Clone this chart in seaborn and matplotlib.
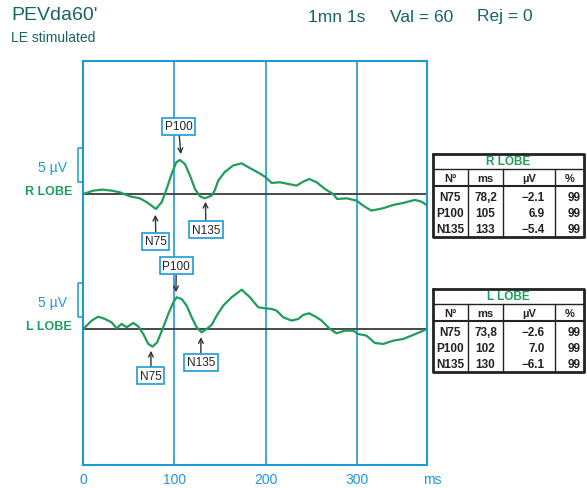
import matplotlib
matplotlib.use("Agg")
import matplotlib.pyplot as plt
import seaborn as sns
import pandas as pd

# === data ===
r_ms = [0, 11, 21, 31, 40, 51, 62, 69.5, 79.7, 86, 91.4, 96.9, 102, 106, 111.5, 117, 122.5, 128, 133,
        140.8, 144, 148, 155, 164.5, 173.7, 182.8, 193.8, 200, 206.6, 215.7, 224.8, 234, 241.2, 247.8,
        255.9, 265, 274, 278.5, 288.8, 299.8, 307, 316, 328.9, 339.9, 350.9, 363.7, 371, 376.5]
r_uv = [0, 0.49, 0.64, 0.49, 0.25, -0.34, -0.64, -1.2, -2.2, -1.2, 0.74, 2.94, 4.66, 5.0, 4.4, 2.7, 0.74,
        -0.34, -0.64, -0.25, 0.49, 1.96, 3.2, 4.2, 4.5, 3.8, 3.0, 2.45, 1.62, 1.72, 1.47, 1.23, 1.81, 2.2,
        1.72, 0.74, 0, -0.74, -0.64, -0.98, -1.72, -2.45, -2.1, -1.62, -1.32, -0.88, -1.13, -1.62]

l_ms = [0, 9.2, 16.4, 23.8, 31, 36.6, 42, 47.6, 54.8, 60.3, 65.8, 71.3, 76, 81, 87.7, 93.2, 98.7, 102.4,
        107.9, 113.4, 118.9, 124.3, 129.8, 135.3, 140.8, 146.3, 153.5, 162.7, 173.7, 182.8, 191.9, 199.2,
        206.6, 212, 219.3, 228.5, 235.8, 241.2, 247.8, 255.9, 261.4, 270.5, 277.8, 286.9, 296, 301.5,
        310.7, 319.8, 329, 340, 350.9, 361.8, 374.7]
l_uv = [0, 1.23, 1.81, 1.47, 0.98, 0.1, 0.74, 0.25, 0.88, 0.39, -0.74, -2.2, -2.6, -1.96, 0.25, 2.2, 3.9,
        4.66, 4.4, 3.43, 1.72, 0.25, -0.49, 0, 0.59, 1.96, 3.43, 4.66, 5.78, 4.66, 3.19, 3.04, 2.94, 2.7,
        1.72, 1.23, 1.47, 2.06, 2.3, 1.72, 1.23, 0, -0.64, -0.25, -0.25, -0.74, -0.98, -2.06, -2.2, -1.72,
        -1.47, -0.88, -0.15]

x_ticks = [0, 100, 200, 300]
peak_names = ["N75", "P100", "N135"]
table_header = ["N°", "ms", "µV", "%"]
r_table_ms = ["78,2", "105", "133"]
r_table_uv = ["\u22122.1", "6.9", "\u22125.4"]
r_table_pct = ["99", "99", "99"]
l_table_ms = ["73,8", "102", "130"]
l_table_uv = ["\u22122.6", "7.0", "\u22126.1"]
l_table_pct = ["99", "99", "99"]

BLUE = "#1d9ad6"
GREEN = "#1f9d5b"
TEAL = "#17665e"

sns.set_style("white")
plt.rcParams["font.family"] = ["Liberation Sans", "DejaVu Sans"]

W, H = 587, 489
fig = plt.figure(figsize=(W / 100, H / 100), dpi=100)


def fx(px):
    return px / W


def fy(py):
    return 1 - py / H


ax = fig.add_axes([fx(83.3), fy(466), fx(427) - fx(83.3), fy(62) - fy(466)])

R_OFF = 19.85  # R lobe baseline (µV units above L baseline)
df_r = pd.DataFrame({"ms": r_ms, "y": [v + R_OFF for v in r_uv]})
df_l = pd.DataFrame({"ms": l_ms, "y": l_uv})

for base in (R_OFF, 0):
    ax.axhline(base, color="#3a3a3a", lw=1.3, zorder=2)
sns.lineplot(data=df_r, x="ms", y="y", ax=ax, color=GREEN, lw=1.6, zorder=3)
sns.lineplot(data=df_l, x="ms", y="y", ax=ax, color=GREEN, lw=1.6, zorder=3)

for xv in x_ticks[1:]:
    ax.axvline(xv, color=BLUE, lw=1.2, zorder=1)

ax.set_xlim(0, 377)
ax.set_ylim(-20, 39.4)
ax.set_xticks(x_ticks)
ax.set_xticklabels([str(t) for t in x_ticks], color=BLUE, fontsize=10)
ax.tick_params(axis="x", length=0, pad=5)
ax.set_yticks([])
ax.set_xlabel("")
ax.set_ylabel("")
for s in ax.spines.values():
    s.set_color(BLUE)
    s.set_linewidth(1.5)

# scale brackets and lobe labels
for base, name in ((R_OFF, "R LOBE"), (0, "L LOBE")):
    ax.plot([0, -6, -6, 0], [base + 1.76, base + 1.76, base + 6.76, base + 6.76],
            color=BLUE, lw=1.1, clip_on=False)
    ax.text(-17.9, base + 3.9, "5 µV", color=BLUE, fontsize=10, ha="right", va="center")
    ax.text(-12.4, base + 0.4, name, color=GREEN, fontsize=9, fontweight="bold",
            ha="right", va="center")

# peak markers
box = dict(boxstyle="square,pad=0.22", fc="white", ec=BLUE, lw=1.2)
arrow = dict(arrowstyle="->", color="#333333", lw=1.0, shrinkA=0, shrinkB=0)
r_marks = [((79, 16.8), (79.7, 12.9)), ((107, 25.7), (104.4, 29.8)), ((134, 18.7), (134.5, 14.6))]
l_marks = [((74.2, -3.2), (74.2, -6.9)), ((101.6, 5.4), (102, 9.3)), ((129, -1.2), (129, -4.9))]
for marks in (r_marks, l_marks):
    for name, (tip, txt) in zip(peak_names, marks):
        ax.annotate(name, xy=tip, xytext=txt, ha="center", va="center", fontsize=8.5,
                    color="#222222", bbox=box, arrowprops=arrow, zorder=5)

fig.text(fx(423), fy(480), "ms", color=BLUE, fontsize=10, ha="left", va="center")

# header texts
fig.text(fx(11), fy(15), "PEVda60'", color=TEAL, fontsize=14, ha="left", va="center")
fig.text(fx(11), fy(38), "LE stimulated", color=TEAL, fontsize=10, ha="left", va="center")
fig.text(fx(308), fy(17), "1mn 1s", color=TEAL, fontsize=12.5, ha="left", va="center")
fig.text(fx(390), fy(17), "Val = 60", color=TEAL, fontsize=12.5, ha="left", va="center")
fig.text(fx(477), fy(17), "Rej = 0", color=TEAL, fontsize=12.5, ha="left", va="center")


# === tables ===
def draw_table(top, title, ms_vals, uv_vals, pct_vals):
    left, right, bottom = 433, 584, top + 83
    tax = fig.add_axes([fx(left), fy(bottom), fx(right) - fx(left), fy(top) - fy(bottom)])
    tax.set_xlim(left, right)
    tax.set_ylim(bottom, top)
    tax.axis("off")
    k = dict(color="#222222", lw=1.0)
    tax.plot([left, right, right, left, left], [top, top, bottom, bottom, top], color="#222222", lw=2.0,
             clip_on=False)
    tax.plot([left, right], [top + 15, top + 15], **k)
    tax.plot([left, right], [top + 32, top + 32], color="#222222", lw=1.5)
    for cx in (468, 503, 555):
        tax.plot([cx, cx], [top + 15, bottom], **k)
    tax.text((left + right) / 2, top + 7.5, title, color=GREEN, fontsize=8.5, fontweight="bold",
             ha="center", va="center")
    centers = [450.5, 485.5, 529, 570]
    for cx, h in zip(centers, table_header):
        tax.text(cx, top + 24, h, fontsize=8, fontweight="bold", ha="center", va="center", color="#222222")
    for i, name in enumerate(peak_names):
        yy = top + 43 + i * 16
        row = [name, ms_vals[i], uv_vals[i], pct_vals[i]]
        aligns = ["center", "center", "right", "right"]
        xs = [450.5, 485.5, 545, 581]
        for xv, val, al in zip(xs, row, aligns):
            tax.text(xv, yy, val, fontsize=8.5, fontweight="bold", ha=al, va="center", color="#222222")


draw_table(155, "R LOBE", r_table_ms, r_table_uv, r_table_pct)
draw_table(290, "L LOBE", l_table_ms, l_table_uv, l_table_pct)

fig.savefig("out.png", dpi=100)
